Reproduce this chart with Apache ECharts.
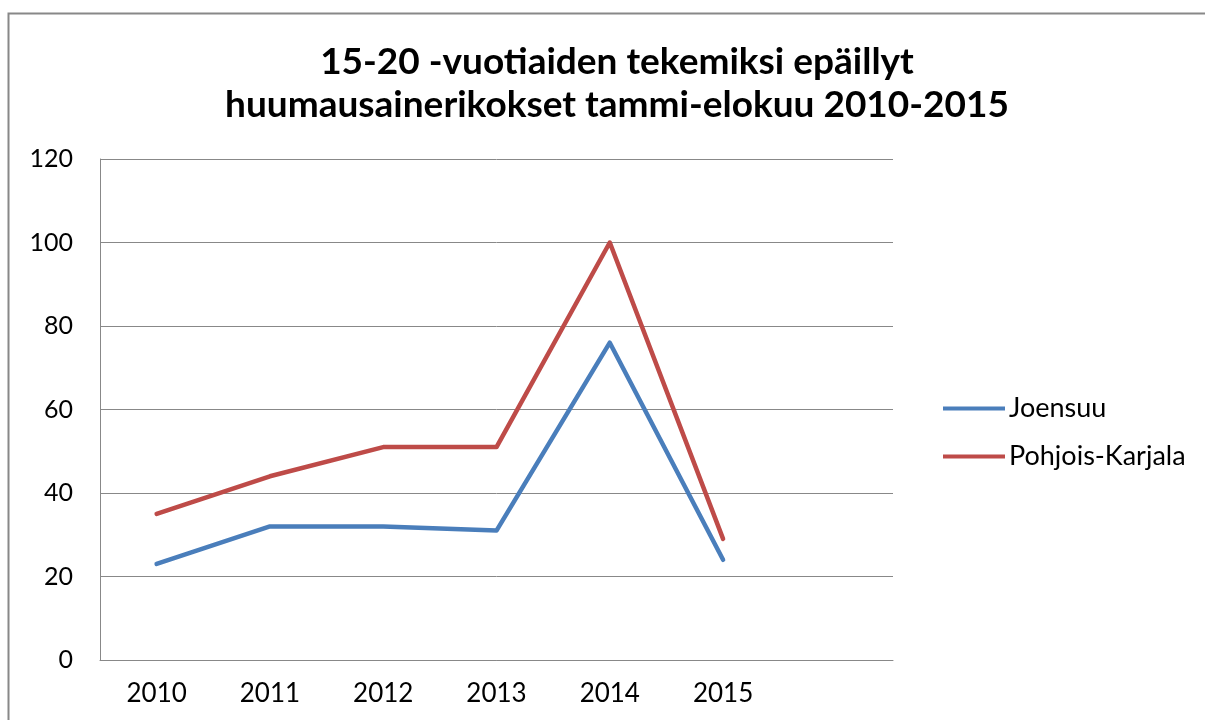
<!DOCTYPE html>
<html>
<head>
<meta charset="utf-8">
<script src="https://cdn.jsdelivr.net/npm/echarts@6/dist/echarts.min.js"></script>
<style>
  html, body { margin: 0; padding: 0; background: #fff; }
  #chart { width: 1205px; height: 720px; }
</style>
</head>
<body>
<div id="chart"></div>
<script>
// vuodet (viimeinen tyhjä sarake kuten alkuperäisessä)
var years = ['2010', '2011', '2012', '2013', '2014', '2015', ''];
var joensuu = [23, 32, 32, 31, 76, 24];
var pohjoisKarjala = [35, 44, 51, 51, 100, 29];
var yTicks = { min: 0, max: 120, interval: 20 };

var font = 'Lato, "Open Sans", sans-serif';
var chart = echarts.init(document.getElementById('chart'));

chart.setOption({
  animation: false,
  title: {
    text: '15-20 -vuotiaiden tekemiksi epäillyt\nhuumausainerikokset tammi-elokuu 2010-2015',
    left: 612,
    textAlign: 'center',
    top: 36,
    textStyle: {
      fontFamily: font,
      fontSize: 37,
      fontWeight: 'bold',
      color: '#000',
      lineHeight: 43
    }
  },
  graphic: [
    {
      // kehys
      type: 'rect',
      shape: { x: 8.5, y: 13.5, width: 1300, height: 800 },
      style: { fill: 'none', stroke: '#888', lineWidth: 2 },
      silent: true
    }
  ],
  legend: {
    orient: 'vertical',
    left: 938,
    top: 390,
    itemWidth: 62,
    itemHeight: 4,
    itemGap: 21,
    icon: 'rect',
    textStyle: { fontFamily: font, fontSize: 27, lineHeight: 27, color: '#000', padding: [0, 0, 0, -1] },
    data: ['Joensuu', 'Pohjois-Karjala']
  },
  grid: { left: 100, right: 312, top: 159, bottom: 60 },
  xAxis: {
    type: 'category',
    data: years,
    boundaryGap: true,
    axisLine: { lineStyle: { color: '#888', width: 1 } },
    axisTick: { show: false },
    axisLabel: { fontFamily: font, fontSize: 26, color: '#000', margin: 21 }
  },
  yAxis: {
    type: 'value',
    min: yTicks.min,
    max: yTicks.max,
    interval: yTicks.interval,
    axisLine: { show: true, lineStyle: { color: '#888', width: 1 } },
    axisTick: { show: false },
    splitLine: { lineStyle: { color: '#888', width: 1 } },
    axisLabel: { fontFamily: font, fontSize: 25, color: '#000', margin: 27 }
  },
  series: [
    {
      name: 'Joensuu',
      type: 'line',
      data: joensuu,
      symbol: 'none',
      color: '#4A7EBB',
      lineStyle: { width: 4.5, cap: 'round', join: 'round' }
    },
    {
      name: 'Pohjois-Karjala',
      type: 'line',
      data: pohjoisKarjala,
      symbol: 'none',
      color: '#BE4B48',
      lineStyle: { width: 4.5, cap: 'round', join: 'round' }
    }
  ]
});
</script>
</body>
</html>
